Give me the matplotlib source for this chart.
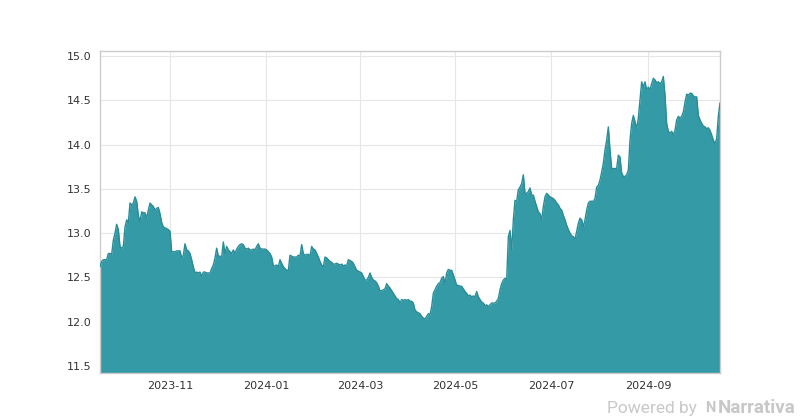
import numpy as np
import pandas as pd
import matplotlib
matplotlib.use("Agg")
import matplotlib.pyplot as plt
import matplotlib.dates as mdates
from matplotlib.ticker import MultipleLocator, FormatStrFormatter

# Series range (dates spread evenly between first and last reading)
START_DATE = "2023-09-17"
END_DATE = "2024-10-17"

# Price readings, left to right
prices = [
    12.62, 12.68, 12.70, 12.70, 12.70, 12.77, 12.77, 12.76, 12.92, 13.00,
    13.10, 13.04, 12.85, 12.83, 12.85, 13.07, 13.15, 13.12, 13.34, 13.32,
    13.34, 13.41, 13.36, 13.20, 13.13, 13.24, 13.23, 13.23, 13.17, 13.26,
    13.34, 13.32, 13.30, 13.26, 13.28, 13.29, 13.22, 13.12, 13.07, 13.06,
    13.05, 13.04, 13.02, 12.79, 12.79, 12.79, 12.80, 12.80, 12.80, 12.72,
    12.75, 12.88, 12.81, 12.80, 12.77, 12.70, 12.62, 12.55, 12.56, 12.55,
    12.56, 12.51, 12.56, 12.56, 12.55, 12.55, 12.55, 12.60, 12.64, 12.72,
    12.83, 12.74, 12.74, 12.73, 12.90, 12.77, 12.85, 12.81, 12.79, 12.77,
    12.81, 12.77, 12.82, 12.85, 12.87, 12.88, 12.87, 12.83, 12.82, 12.83,
    12.81, 12.81, 12.82, 12.81, 12.85, 12.88, 12.83, 12.82, 12.82, 12.82,
    12.81, 12.79, 12.77, 12.73, 12.63, 12.63, 12.64, 12.62, 12.70, 12.66,
    12.62, 12.60, 12.58, 12.58, 12.75, 12.74, 12.73, 12.73, 12.73, 12.75,
    12.74, 12.87, 12.77, 12.75, 12.76, 12.76, 12.74, 12.85, 12.82, 12.81,
    12.77, 12.73, 12.68, 12.64, 12.62, 12.73, 12.72, 12.70, 12.68, 12.67,
    12.65, 12.65, 12.66, 12.65, 12.64, 12.65, 12.63, 12.64, 12.63, 12.70,
    12.69, 12.68, 12.66, 12.62, 12.58, 12.57, 12.56, 12.55, 12.51, 12.47,
    12.47, 12.50, 12.55, 12.50, 12.47, 12.46, 12.44, 12.40, 12.35, 12.35,
    12.36, 12.37, 12.43, 12.40, 12.38, 12.35, 12.32, 12.29, 12.26, 12.25,
    12.21, 12.25, 12.24, 12.25, 12.24, 12.25, 12.23, 12.23, 12.21, 12.13,
    12.11, 12.10, 12.09,
    12.06, 12.04, 12.03, 12.06, 12.09, 12.08, 12.17, 12.32, 12.36, 12.40,
    12.43, 12.44, 12.49, 12.51, 12.43, 12.55, 12.59, 12.58, 12.58, 12.53,
    12.47, 12.41, 12.41, 12.40, 12.40, 12.37, 12.34, 12.32, 12.29, 12.30,
    12.28, 12.29, 12.28, 12.34, 12.28, 12.25, 12.22, 12.21, 12.18, 12.19,
    12.17, 12.19, 12.21, 12.21, 12.21, 12.23, 12.26, 12.36, 12.43, 12.47,
    12.49, 12.47, 12.96, 13.03, 12.81, 13.15, 13.37, 13.36, 13.49, 13.52,
    13.56, 13.66, 13.45, 13.45, 13.47, 13.51, 13.43, 13.43, 13.36, 13.30,
    13.24, 13.22, 13.15, 13.30, 13.41, 13.45, 13.43, 13.41, 13.40, 13.39,
    13.37, 13.34, 13.32, 13.28, 13.26, 13.20, 13.15, 13.09, 13.04, 13.00,
    12.97, 12.96, 12.93, 13.02, 13.11, 13.17, 13.15, 13.07, 13.15, 13.26,
    13.34, 13.36, 13.36, 13.36, 13.39, 13.52, 13.54, 13.60, 13.69, 13.79,
    13.94, 14.05, 14.20, 13.94, 13.73, 13.73, 13.73, 13.73, 13.88, 13.86,
    13.68, 13.64, 13.64, 13.66, 13.71, 14.05, 14.24, 14.33, 14.26, 14.18,
    14.30, 14.50, 14.71, 14.65, 14.71, 14.62, 14.65, 14.62, 14.69, 14.75,
    14.73, 14.70, 14.71, 14.69, 14.71, 14.77, 14.56, 14.24, 14.15, 14.13,
    14.15, 14.11, 14.16, 14.28, 14.32, 14.30, 14.32, 14.37, 14.48, 14.57,
    14.56, 14.58, 14.58, 14.55, 14.54, 14.54, 14.33, 14.28, 14.24, 14.21,
    14.20, 14.18, 14.19, 14.16, 14.11, 14.05, 14.01, 14.07, 14.32, 14.47,
]

Y_MIN, Y_MAX = 11.42, 15.06

FILL_COLOR = "#349aa6"
LINE_COLOR = "#2a8c97"
GRID_COLOR = "#e6e6e6"
MARK_COLOR = "#c8c8c8"


def main():
    dates = pd.date_range(START_DATE, END_DATE, periods=len(prices))

    fig, ax = plt.subplots(figsize=(8, 4.2), dpi=100)
    fig.subplots_adjust(left=0.125, right=0.9, bottom=0.112, top=0.879)

    ax.fill_between(dates, prices, Y_MIN, color=FILL_COLOR, linewidth=0, zorder=2)
    ax.plot(dates, prices, color=LINE_COLOR, linewidth=1.0, zorder=3)

    ax.set_xlim(dates[0], dates[-1])
    ax.set_ylim(Y_MIN, Y_MAX)

    ax.xaxis.set_major_locator(mdates.MonthLocator(bymonth=[1, 3, 5, 7, 9, 11]))
    ax.xaxis.set_major_formatter(mdates.DateFormatter("%Y-%m"))
    ax.yaxis.set_major_locator(MultipleLocator(0.5))
    ax.yaxis.set_major_formatter(FormatStrFormatter("%.1f"))

    ax.grid(True, color=GRID_COLOR, linewidth=0.8, zorder=0)
    ax.set_axisbelow(True)
    ax.tick_params(length=0, labelsize=8, labelcolor="#333333", pad=6)
    for spine in ax.spines.values():
        spine.set_color("#cccccc")
        spine.set_linewidth(1.0)

    # watermark, bottom right
    fig.text(0.871, 0.028, "Powered by", ha="right", va="center",
             fontsize=12.5, color=MARK_COLOR, family="Roboto")
    fig.text(0.881, 0.028, "N", ha="left", va="center",
             fontsize=10.5, color=MARK_COLOR, fontweight="bold", family="Roboto")
    fig.text(0.897, 0.028, "Narrativa", ha="left", va="center",
             fontsize=13.5, color=MARK_COLOR, fontweight="bold", family="Roboto")

    fig.savefig("out.png", dpi=100)
    plt.close(fig)


if __name__ == "__main__":
    main()
